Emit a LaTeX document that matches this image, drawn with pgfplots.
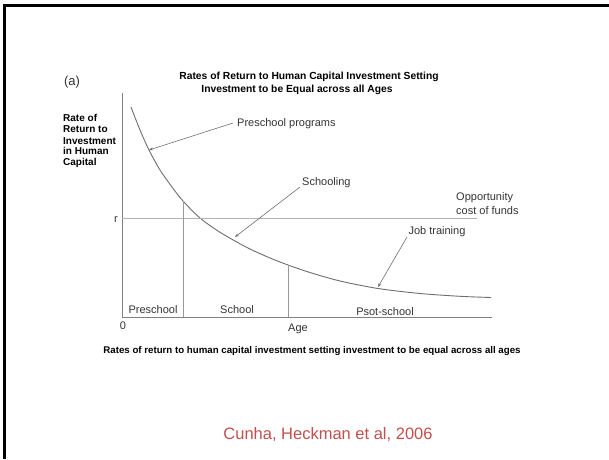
\documentclass[border=0pt]{standalone}
\usepackage{fontspec}
\setmainfont{Liberation Sans}
\usepackage{pgfplots}
\pgfplotsset{compat=1.18}
\usetikzlibrary{arrows.meta}
\definecolor{txt}{HTML}{333333}
\definecolor{crv}{HTML}{6E6E6E}
\definecolor{credit}{HTML}{C0504D}
\begin{document}
\begin{tikzpicture}[x=1pt,y=1pt]
\path[use as bounding box] (0,0) rectangle (609,459);
\draw[line width=3pt,black] (3,453.5) -- (609,453.5);
\draw[line width=3pt,black] (4.7,455) -- (4.7,0);
\begin{axis}[at={(122pt,142pt)},anchor=south west,scale only axis,
  width=370pt,height=224pt,xmin=0,xmax=370,ymin=0,ymax=224,
  axis x line=bottom,axis y line=left,
  axis line style={-,draw=gray,line width=0.8pt},
  xtick=\empty,ytick=\empty,clip=false]
\addplot[crv,line width=0.9pt,smooth] coordinates {
(9,210)(18,187)(27,167)(38,147)(50,130)(61,116)(78,99)(96,86)(113,76)(128,68)(148,59)(166,52)(188,44.5)(218,36)(256,28.5)(298,23.5)(338,20.7)(369,19.5)};
\addplot[gray!60,line width=0.8pt] coordinates {(0,99)(355,99)};
\addplot[gray!80,line width=0.8pt] coordinates {(61,0)(61,116)};
\addplot[gray!80,line width=0.8pt] coordinates {(166,0)(166,52)};
\end{axis}
\tikzset{arr/.style={-{Stealth[length=4pt,width=3pt]},crv,line width=0.6pt}}
\draw[arr] (233,336) -- (149,309);
\draw[arr] (300,272) -- (235,222);
\draw[arr] (407,222) -- (378,172);
\tikzset{lab/.style={inner sep=0pt,text=txt,font=\fontsize{11}{13}\selectfont}}
\node[lab,anchor=base] at (72,374) {\fontsize{13}{15}\selectfont (a)};
\node[inner sep=0pt,anchor=base,font=\fontsize{10.3}{12}\selectfont\bfseries] at (309,379.5) {Rates of Return to Human Capital Investment Setting};
\node[inner sep=0pt,anchor=base,font=\fontsize{10.3}{12}\selectfont\bfseries] at (297,367) {Investment to be Equal across all Ages};
\tikzset{ylab/.style={inner sep=0pt,anchor=base west,text=black,font=\fontsize{10}{11}\selectfont\bfseries}}
\node[ylab] at (63,337.5) {Rate of};
\node[ylab] at (63,326.5) {Return to};
\node[ylab] at (63,315) {Investment};
\node[ylab] at (63,304.5) {in Human};
\node[ylab] at (63,293.5) {Capital};
\node[lab,anchor=base west] at (237,333) {Preschool programs};
\node[lab,anchor=base west] at (302,274) {Schooling};
\node[lab,anchor=base west] at (456,259) {Opportunity};
\node[lab,anchor=base west] at (456,245) {cost of funds};
\node[lab,anchor=base] at (437,225) {Job training};
\node[lab,anchor=base] at (153,146) {Preschool};
\node[lab,anchor=base] at (237,146) {School};
\node[lab,anchor=base] at (385,144) {Psot-school};
\node[lab,anchor=base] at (123,130) {0};
\node[lab,anchor=base] at (298,128) {Age};
\node[lab,anchor=base] at (116,237) {r};
\node[inner sep=0pt,anchor=base,font=\fontsize{9.7}{11}\selectfont\bfseries] at (312,106) {Rates of return to human capital investment setting investment to be equal across all ages};
\node[inner sep=0pt,anchor=base,text=credit,font=\fontsize{16.5}{19}\selectfont] at (328,20) {Cunha, Heckman et al, 2006};
\end{tikzpicture}
\end{document}
